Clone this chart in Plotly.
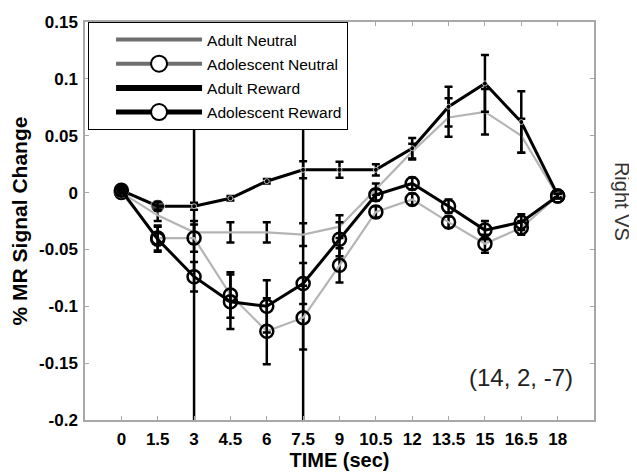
import plotly.graph_objects as go

# ---------------- data ----------------
time_sec = [0, 1.5, 3, 4.5, 6, 7.5, 9, 10.5, 12, 13.5, 15, 16.5, 18]

adult_neutral = [0.0, -0.020, -0.035, -0.035, -0.035, -0.037, -0.030, 0.003, 0.036, 0.066, 0.071, 0.050, -0.003]
adult_neutral_err = [0.002, 0.005, 0.010, 0.009, 0.009, 0.010, 0.010, 0.005, 0.007, 0.017, 0.020, 0.015, 0.002]

adolescent_neutral = [0.0, -0.040, -0.040, -0.090, -0.122, -0.110, -0.064, -0.017, -0.006, -0.026, -0.045, -0.031, -0.003]
adolescent_neutral_err = [0.002, 0.011, 0.012, 0.020, 0.029, 0.028, 0.015, 0.005, 0.005, 0.005, 0.008, 0.006, 0.002]

adult_reward = [0.002, -0.012, -0.012, -0.005, 0.010, 0.020, 0.020, 0.020, 0.039, 0.0755, 0.096, 0.062, -0.002]
adult_reward_err = [0.002, 0.004, 0.003, 0.002, 0.002, 0.0075, 0.007, 0.005, 0.009, 0.0175, 0.025, 0.027, 0.002]

adolescent_reward = [0.002, -0.041, -0.074, -0.096, -0.100, -0.080, -0.041, -0.002, 0.008, -0.012, -0.033, -0.026, -0.003]
adolescent_reward_err = [0.002, 0.011, 0.013, 0.024, 0.023, 0.018, 0.015, 0.005, 0.005, 0.006, 0.008, 0.007, 0.002]

event_times = [3, 7.5]

x_tick_vals = [0, 1.5, 3, 4.5, 6, 7.5, 9, 10.5, 12, 13.5, 15, 16.5, 18]
x_tick_text = ["0", "1.5", "3", "4.5", "6", "7.5", "9", "10.5", "12", "13.5", "15", "16.5", "18"]
y_tick_vals = [0.15, 0.1, 0.05, 0, -0.05, -0.1, -0.15, -0.2]
y_tick_text = ["0.15", "0.1", "0.05", "0", "-0.05", "-0.1", "-0.15", "-0.2"]

series_names = ["Adult Neutral", "Adolescent Neutral", "Adult Reward", "Adolescent Reward"]

# ---------------- style ----------------
FONT = "Liberation Sans, Arial, Helvetica, sans-serif"
GRAY_LINE = "#b4b4b4"
LEGEND_GRAY = "#6e6e6e"
adult_reward_marker_sizes = [15, 14, 5, 5, 5, 5, 5, 5, 5, 5, 5, 5, 5]


def err(arr):
    return dict(type="data", array=arr, visible=True, color="black",
                thickness=2.5, width=4)


fig = go.Figure()

# neutral (gray) series
fig.add_trace(go.Scatter(
    x=time_sec, y=adult_neutral, mode="lines", showlegend=False,
    line=dict(color=GRAY_LINE, width=2.2), error_y=err(adult_neutral_err)))
fig.add_trace(go.Scatter(
    x=time_sec, y=adolescent_neutral, mode="lines+markers", showlegend=False,
    line=dict(color=GRAY_LINE, width=2.2),
    marker=dict(symbol="circle", size=13, color="rgba(0,0,0,0)",
                line=dict(color="black", width=2.5)),
    error_y=err(adolescent_neutral_err)))

# reward (black) series
fig.add_trace(go.Scatter(
    x=time_sec, y=adult_reward, mode="lines+markers", showlegend=False,
    line=dict(color="black", width=3),
    marker=dict(symbol="circle", size=adult_reward_marker_sizes, color="black"),
    error_y=err(adult_reward_err)))
fig.add_trace(go.Scatter(
    x=time_sec, y=adolescent_reward, mode="lines+markers", showlegend=False,
    line=dict(color="black", width=3),
    marker=dict(symbol="circle", size=13, color="rgba(0,0,0,0)",
                line=dict(color="black", width=2.5)),
    error_y=err(adolescent_reward_err)))

# legend-only entries
legend_styles = [
    dict(mode="lines", line=dict(color=LEGEND_GRAY, width=4)),
    dict(mode="lines+markers", line=dict(color=LEGEND_GRAY, width=4),
         marker=dict(symbol="circle", size=16, color="white", line=dict(color="black", width=2))),
    dict(mode="lines", line=dict(color="black", width=6)),
    dict(mode="lines+markers", line=dict(color="black", width=5),
         marker=dict(symbol="circle", size=16, color="white", line=dict(color="black", width=2))),
]
for name, st in zip(series_names, legend_styles):
    fig.add_trace(go.Scatter(x=[None], y=[None], name=name, showlegend=True,
                             legendgroup=name, **st))

for t in event_times:
    fig.add_vline(x=t, line=dict(color="black", width=2.5), layer="below")

axis_common = dict(showgrid=False, zeroline=False, showline=True, mirror="ticks",
                   linecolor="#a8a8a8", linewidth=1.5, ticks="inside", ticklen=4,
                   tickcolor="#a8a8a8", tickwidth=1.2, automargin=False,
                   tickfont=dict(family=FONT, size=17, color="black", weight="bold"))

fig.update_xaxes(range=[-1.5, 19.5], tickmode="array", tickvals=x_tick_vals,
                 ticktext=x_tick_text, ticklabelstandoff=3,
                 title=dict(text="<b>TIME (sec)</b>", standoff=4,
                            font=dict(family=FONT, size=20, color="black")),
                 **axis_common)
fig.update_yaxes(range=[-0.2, 0.15], tickmode="array", tickvals=y_tick_vals,
                 ticktext=y_tick_text, ticklabelstandoff=2,
                 title=dict(text="<b>% MR Signal Change</b>", standoff=8,
                            font=dict(family=FONT, size=21, color="black")),
                 **axis_common)

fig.add_annotation(text="(14, 2, -7)", xref="paper", yref="paper", x=0.857, y=0.108,
                   xanchor="center", yanchor="middle",
                   showarrow=False, font=dict(family=FONT, size=24, color="#222222"))
fig.add_annotation(text="Right VS", xref="paper", yref="paper", x=1.055, y=0.548,
                   xanchor="center", yanchor="middle",
                   textangle=90, showarrow=False,
                   font=dict(family=FONT, size=20, color="#333333"))

fig.update_layout(
    width=629, height=464,
    margin=dict(l=77, r=43, t=14, b=52, autoexpand=False),
    plot_bgcolor="white", paper_bgcolor="white",
    font=dict(family=FONT, color="black"),
    legend=dict(x=0.006, y=1.0, xanchor="left", yanchor="top",
                bgcolor="white", bordercolor="black", borderwidth=1,
                itemwidth=86, indentation=22, traceorder="grouped",
                font=dict(family=FONT, size=15.5, color="black"),
                tracegroupgap=1),
)

fig.write_html("out.html")
